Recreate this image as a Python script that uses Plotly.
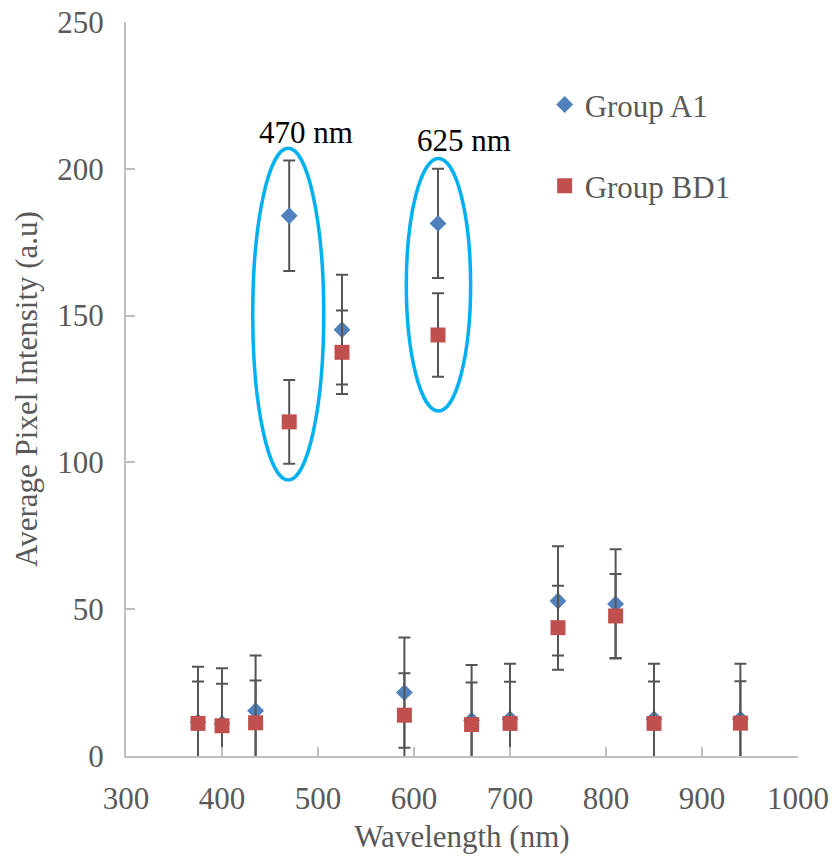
import plotly.graph_objects as go

wavelengths = [375, 400, 435, 470, 525, 590, 625, 660, 700, 750, 810, 850, 940]
a1_values = [11.6, 11.1, 15.4, 184.0, 145.2, 21.6, 181.4, 12.2, 12.6, 52.8, 51.8, 12.6, 12.6]
a1_errors = [18.8, 18.8, 18.8, 18.8, 18.7, 18.8, 18.6, 18.8, 18.8, 18.6, 18.6, 18.8, 18.8]
bd1_values = [11.1, 10.3, 11.3, 113.8, 137.5, 13.9, 143.4, 10.7, 11.1, 43.7, 47.7, 11.1, 11.2]
bd1_errors = [14.3, 14.3, 14.4, 14.3, 14.2, 14.3, 14.2, 14.3, 14.2, 14.3, 14.3, 14.3, 14.3]

x_ticks = [300, 400, 500, 600, 700, 800, 900, 1000]
y_ticks = [0, 50, 100, 150, 200, 250]

FONT = "Liberation Serif"
GREY = "#595959"
ERR = "#555555"
AXIS = "#BFBFBF"

fig = go.Figure()
fig.add_trace(go.Scatter(
    x=wavelengths, y=a1_values, mode="markers", name="Group A1",
    legendgroup="a1",
    marker=dict(symbol="diamond", size=13, color="#4F81BD", line=dict(width=0)),
    error_y=dict(type="data", array=a1_errors, visible=True, color=ERR, thickness=2, width=6),
))
fig.add_trace(go.Scatter(
    x=wavelengths, y=bd1_values, mode="markers", name="Group BD1",
    legendgroup="bd1",
    marker=dict(symbol="square", size=15, color="#C0504D", line=dict(width=0)),
    error_y=dict(type="data", array=bd1_errors, visible=True, color=ERR, thickness=2, width=6),
))

# highlight ellipses
fig.add_shape(type="circle", xref="x", yref="y", x0=432, x1=506, y0=94, y1=207,
              line=dict(color="#00B0F0", width=3.5))
fig.add_shape(type="circle", xref="x", yref="y", x0=592, x1=659, y0=117.5, y1=203.5,
              line=dict(color="#00B0F0", width=3.5))

fig.add_annotation(x=487.5, y=212.5, xref="x", yref="y", text="470 nm", showarrow=False,
                   font=dict(family=FONT, size=31, color="#000000"))
fig.add_annotation(x=652, y=209.5, xref="x", yref="y", text="625 nm", showarrow=False,
                   font=dict(family=FONT, size=31, color="#000000"))

fig.update_layout(
    width=832, height=856,
    margin=dict(l=126, r=34, t=22, b=100, autoexpand=False),
    paper_bgcolor="white", plot_bgcolor="white",
    font=dict(family=FONT, size=31, color=GREY),
    showlegend=True,
    legend=dict(x=0.623, y=0.924, xanchor="left", yanchor="top",
                font=dict(family=FONT, size=31, color=GREY),
                bgcolor="rgba(0,0,0,0)", tracegroupgap=38, traceorder="grouped"),
)
fig.update_xaxes(
    range=[300, 1000], tickvals=x_ticks, ticktext=[str(v) for v in x_ticks],
    showgrid=False, zeroline=False, showline=True, linecolor=AXIS, linewidth=2,
    ticks="inside", ticklen=9, tickwidth=2, tickcolor=AXIS,
    tickfont=dict(family=FONT, size=31, color=GREY), ticklabelstandoff=14,
    title=dict(text="Wavelength (nm)", font=dict(family=FONT, size=31, color=GREY), standoff=10),
    automargin=False,
)
fig.update_yaxes(
    range=[0, 250], tickvals=y_ticks, ticktext=[str(v) for v in y_ticks],
    showgrid=False, zeroline=False, showline=True, linecolor=AXIS, linewidth=2,
    ticks="inside", ticklen=9, tickwidth=2, tickcolor=AXIS,
    tickfont=dict(family=FONT, size=31, color=GREY), ticklabelstandoff=14,
    title=dict(text="Average Pixel Intensity (a.u)", font=dict(family=FONT, size=31, color=GREY), standoff=10),
    automargin=False,
)

fig.write_html("out.html")
